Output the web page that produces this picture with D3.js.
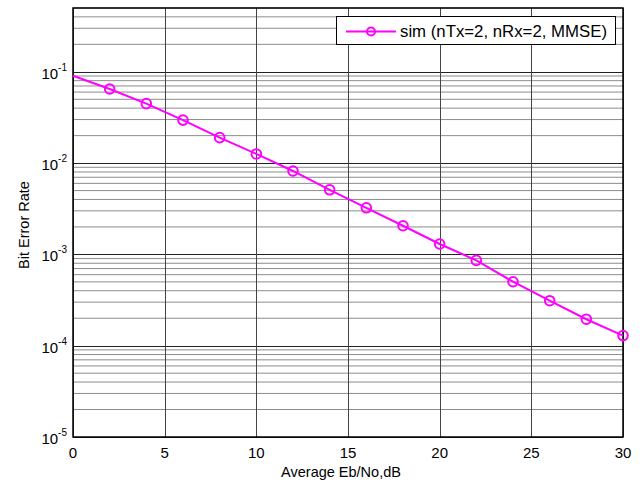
<!DOCTYPE html>
<html>
<head>
<meta charset="utf-8">
<script src="https://cdn.jsdelivr.net/npm/d3@7"></script>
<style>
  body { margin: 0; background: #fff; }
  text { font-family: "Liberation Sans", Arial, sans-serif; fill: #000; }
</style>
</head>
<body>
<div id="vis"></div>
<script>
// data
let ebno = [0, 2, 4, 6, 8, 10, 12, 14, 16, 18, 20, 22, 24, 26, 28, 30];
let ber = [0.0906, 0.0648, 0.0448, 0.0296, 0.019, 0.0126, 0.0082, 0.0051,
           0.00324, 0.00206, 0.0013, 0.00086, 0.000502, 0.000311, 0.000195, 0.000129];
let xTicks = [0, 5, 10, 15, 20, 25, 30];
let yDecades = [-5, -4, -3, -2, -1];
let seriesName = "sim (nTx=2, nRx=2, MMSE)";

let margin = { top: 8, left: 73, right: 21, bottom: 46 },
  W = 644, H = 483,
  width = W - margin.left - margin.right,
  height = H - margin.top - margin.bottom;

let svg = d3.select("#vis").append("svg")
  .attr("width", W).attr("height", H);

let g = svg.append("g")
  .attr("transform", `translate(${margin.left},${margin.top})`);

let x = d3.scaleLinear().domain([0, 30]).range([0, width]);
let y = d3.scaleLog().domain([1e-5, 0.5]).range([height, 0]);

// minor grid (2..9 x each decade)
let minor = [];
yDecades.forEach(e => {
  for (let m = 2; m <= 9; m++) {
    let v = m * Math.pow(10, e);
    if (v <= 0.5) minor.push(v);
  }
});
g.append("g").selectAll("line").data(minor).join("line")
  .attr("x1", 0).attr("x2", width)
  .attr("y1", d => y(d)).attr("y2", d => y(d))
  .attr("stroke", "#8c8c8c").attr("stroke-width", 1);

// major grid
g.append("g").selectAll("line").data(yDecades).join("line")
  .attr("x1", 0).attr("x2", width)
  .attr("y1", d => Math.round(y(Math.pow(10, d))) + 0.5)
  .attr("y2", d => Math.round(y(Math.pow(10, d))) + 0.5)
  .attr("stroke", "#222").attr("stroke-width", 1);
g.append("g").selectAll("line").data(xTicks).join("line")
  .attr("x1", d => Math.round(x(d)) + 0.5).attr("x2", d => Math.round(x(d)) + 0.5)
  .attr("y1", 0).attr("y2", height)
  .attr("stroke", "#444").attr("stroke-width", 1);

// axes box
g.append("rect")
  .attr("x", 0).attr("y", 0).attr("width", width).attr("height", height)
  .attr("fill", "none").attr("stroke", "#000").attr("stroke-width", 1.5);

// x tick labels
g.append("g").selectAll("text").data(xTicks).join("text")
  .attr("x", d => x(d)).attr("y", height + 21)
  .attr("text-anchor", "middle").attr("font-size", 15)
  .text(d => d);

// y tick labels 10^n
let yl = g.append("g").selectAll("text").data(yDecades).join("text")
  .attr("x", -6).attr("y", d => y(Math.pow(10, d)) + 7)
  .attr("text-anchor", "end").attr("font-size", 15);
yl.append("tspan").text("10");
yl.append("tspan").attr("font-size", 10).attr("dy", -8).text(d => d);

// axis titles
svg.append("text")
  .attr("x", 341).attr("y", 477)
  .attr("text-anchor", "middle").attr("font-size", 14.5)
  .text("Average Eb/No,dB");
svg.append("text")
  .attr("transform", "translate(29,225) rotate(-90)")
  .attr("text-anchor", "middle").attr("font-size", 14.5)
  .text("Bit Error Rate");

// series
let pts = ebno.map((d, i) => ({ x: d, y: ber[i] }));
let line = d3.line().x(d => x(d.x)).y(d => y(d.y));
g.append("path").datum(pts)
  .attr("d", line)
  .attr("fill", "none").attr("stroke", "#ff00ff").attr("stroke-width", 2);
g.append("g").selectAll("circle").data(pts.slice(1)).join("circle")
  .attr("cx", d => x(d.x)).attr("cy", d => y(d.y)).attr("r", 4.8)
  .attr("fill", "none").attr("stroke", "#ff00ff").attr("stroke-width", 2);

// legend
let lg = svg.append("g");
lg.append("rect")
  .attr("x", 336.5).attr("y", 16.5).attr("width", 279).attr("height", 28)
  .attr("fill", "#fff").attr("stroke", "#000").attr("stroke-width", 1);
lg.append("line")
  .attr("x1", 346).attr("x2", 396).attr("y1", 31.5).attr("y2", 31.5)
  .attr("stroke", "#ff00ff").attr("stroke-width", 2);
lg.append("circle")
  .attr("cx", 371).attr("cy", 31.5).attr("r", 4)
  .attr("fill", "none").attr("stroke", "#ff00ff").attr("stroke-width", 2);
lg.append("text")
  .attr("x", 400).attr("y", 37).attr("font-size", 16.8)
  .text(seriesName);
</script>
</body>
</html>
